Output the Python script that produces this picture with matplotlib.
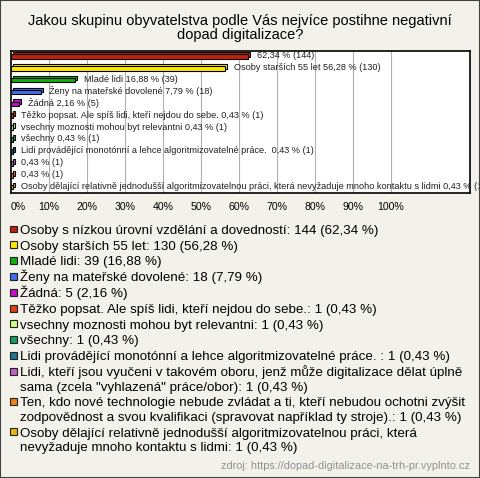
import matplotlib
matplotlib.use("Agg")
import matplotlib.pyplot as plt
from matplotlib.patches import Rectangle

# =========================
# DATA
# =========================

bar_names = [
    "", "Osoby starších 55 let", "Mladé lidi", "Ženy na mateřské dovolené", "Žádná",
    "Těžko popsat. Ale spíš lidi, kteří nejdou do sebe.",
    "vsechny moznosti mohou byt relevantni", "všechny",
    "Lidi provádějící monotónní a lehce algoritmizovatelné práce. ",
    "", "",
    "Osoby dělající relativně jednodušší algoritmizovatelnou práci, která nevyžaduje mnoho kontaktu s lidmi",
]
legend_names = [
    "Osoby s nízkou úrovní vzdělání a dovedností",
    "Osoby starších 55 let",
    "Mladé lidi",
    "Ženy na mateřské dovolené",
    "Žádná",
    "Těžko popsat. Ale spíš lidi, kteří nejdou do sebe.",
    "vsechny moznosti mohou byt relevantni",
    "všechny",
    "Lidi provádějící monotónní a lehce algoritmizovatelné práce. ",
    "Lidi, kteří jsou vyučeni v takovém oboru, jenž může digitalizace dělat úplně\nsama (zcela \"vyhlazená\" práce/obor)",
    "Ten, kdo nové technologie nebude zvládat a ti, kteří nebudou ochotni zvýšit\nzodpovědnost a svou kvalifikaci (spravovat například ty stroje).",
    "Osoby dělající relativně jednodušší algoritmizovatelnou práci, která\nnevyžaduje mnoho kontaktu s lidmi",
]
counts = [144, 130, 39, 18, 5, 1, 1, 1, 1, 1, 1, 1]
percents = [62.34, 56.28, 16.88, 7.79, 2.16, 0.43, 0.43, 0.43, 0.43, 0.43, 0.43, 0.43]
colors = [
    "#c0200c", "#ffe800", "#10b010", "#3c6ef0", "#c010c8", "#e04010",
    "#c8ff80", "#10a060", "#1c7890", "#c060c8", "#f08010", "#e8b800",
]
tick_vals = [0, 10, 20, 30, 40, 50, 60, 70, 80, 90, 100]

TITLE = "Jakou skupinu obyvatelstva podle Vás nejvíce postihne negativní\ndopad digitalizace?"
SOURCE = "zdroj: https://dopad-digitalizace-na-trh-pr.vyplnto.cz"

BG = "#f3f2ea"
W, H = 480, 478


def fmt(v):
    return f"{v:.2f}".replace(".", ",")


def px(x, y):
    # pixely od leveho horniho rohu -> zlomek figury
    return x / W, 1 - y / H


plt.rcParams["font.family"] = ["Liberation Sans", "DejaVu Sans"]

fig = plt.figure(figsize=(W / 100, H / 100), dpi=100, facecolor=BG)
fig.patches.append(Rectangle((0, 0), 1, 1, transform=fig.transFigure,
                             fill=False, edgecolor="#404040", lw=1.5))

fig.text(*px(240, 28), TITLE, ha="center", va="center", fontsize=10.5,
         linespacing=1.05)

# =========================
# BARS
# =========================

l, r, t, b = 11, 470, 51, 193
ax = fig.add_axes([l / W, 1 - b / H, (r - l) / W, (b - t) / H])
ax.set_facecolor("white")
xmax = (r - l) / 3.8
ax.set_xlim(0, xmax)
n = len(percents)
ax.set_ylim(n - 0.5, -0.45)

for v in tick_vals[1:]:
    ax.axvline(v, color="#b0b0b0", lw=0.8, zorder=0)

ys = list(range(n))
dx, dy = 0.6, -0.17
ax.barh([y + dy for y in ys], percents, left=dx, height=0.4, color=colors,
        edgecolor="black", lw=0.8, zorder=2)
ax.barh(ys, percents, height=0.4, color=colors, edgecolor="black", lw=0.8,
        zorder=3)

for y, name, p, c in zip(ys, bar_names, percents, counts):
    label = (name + " " if name else "") + f"{fmt(p)} % ({c})"
    ax.text(p + 2.3, y - 0.05, label, ha="left", va="center", fontsize=6.6,
            color="#202020", clip_on=False, zorder=4)

for s in ax.spines.values():
    s.set_linewidth(1.2)
ax.set_yticks([])
ax.set_xticks([])

for v in tick_vals:
    xp = l + v * 3.8 + (7 if v == 0 else 0)
    fig.text(*px(xp, 207), f"{v}%", ha="center", va="center", fontsize=7.6)

# =========================
# LEGEND
# =========================

y = 229
for name, c, p, col in zip(legend_names, counts, percents, colors):
    fig.patches.append(Rectangle(px(9.5, y + 3.5), 7 / W, 7 / H,
                                 transform=fig.transFigure, facecolor=col,
                                 edgecolor="#202020", lw=0.8))
    lines = f"{name}: {c} ({fmt(p)} %)".split("\n")
    for i, line in enumerate(lines):
        fig.text(*px(20.5, y + 4.8 + 14.5 * i), line, ha="left",
                 va="baseline", fontsize=9.6)
    y += 15.8 + 14.5 * (len(lines) - 1)

fig.text(*px(470, 466), SOURCE, ha="right", va="center", fontsize=7.8,
         color="#909090")

fig.savefig("out.png", dpi=100, facecolor=BG)
